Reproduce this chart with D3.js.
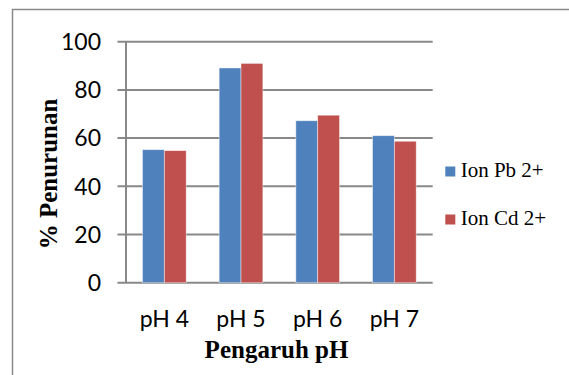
<!DOCTYPE html>
<html>
<head>
<meta charset="utf-8">
<script src="https://cdn.jsdelivr.net/npm/d3@7/dist/d3.min.js"></script>
<style>
  html, body { margin: 0; padding: 0; background: #fff; }
  svg { display: block; }
</style>
</head>
<body>
<svg id="chart" width="569" height="375"></svg>
<script>
// Data
const categories = ["pH 4", "pH 5", "pH 6", "pH 7"];
const seriesNames = ["Ion Pb 2+", "Ion Cd 2+"];
const pbValues = [55.2, 89.1, 67.2, 61.0];
const cdValues = [54.8, 91.0, 69.5, 58.7];
const yTicks = [0, 20, 40, 60, 80, 100];
const seriesColors = ["#4F81BD", "#C0504D"];

const svg = d3.select("#chart");

// Chart-area frame
svg.append("rect")
  .attr("x", 12.5).attr("y", 9.5)
  .attr("width", 620).attr("height", 420)
  .attr("fill", "none")
  .attr("stroke", "#8a8a8a")
  .attr("stroke-width", 1.5);

const plot = { left: 126, right: 432.7, top: 41.7, bottom: 282.7 };

const y = d3.scaleLinear().domain([0, 100]).range([plot.bottom, plot.top]);
const x0 = d3.scaleBand().domain(categories)
  .range([plot.left, plot.right])
  .paddingInner(0.43).paddingOuter(0.215);
const x1 = d3.scaleBand().domain(seriesNames).range([0, x0.bandwidth()]);

// Gridlines
svg.append("g")
  .selectAll("line")
  .data(yTicks)
  .join("line")
  .attr("x1", plot.left - 8.5).attr("x2", plot.right)
  .attr("y1", d => y(d)).attr("y2", d => y(d))
  .attr("stroke", "#888")
  .attr("stroke-width", 2);

// Y axis line
svg.append("line")
  .attr("x1", plot.left).attr("x2", plot.left)
  .attr("y1", plot.top).attr("y2", plot.bottom)
  .attr("stroke", "#888").attr("stroke-width", 2);

// Bars
const rows = categories.map((c, i) => ({ cat: c, vals: [pbValues[i], cdValues[i]] }));
const groups = svg.append("g")
  .selectAll("g")
  .data(rows)
  .join("g")
  .attr("transform", d => `translate(${x0(d.cat)},0)`);

groups.selectAll("rect")
  .data(d => d.vals.map((v, j) => ({ name: seriesNames[j], v, j })))
  .join("rect")
  .attr("x", d => x1(d.name))
  .attr("y", d => y(d.v))
  .attr("width", x1.bandwidth())
  .attr("height", d => y(0) - y(d.v))
  .attr("fill", d => seriesColors[d.j])
  .attr("stroke", "rgba(255,255,255,0.55)")
  .attr("stroke-width", 0.8);

// Y tick labels
svg.append("g")
  .selectAll("text")
  .data(yTicks)
  .join("text")
  .attr("x", 101)
  .attr("y", d => y(d))
  .attr("dy", "0.36em")
  .attr("text-anchor", "end")
  .attr("font-family", "Lato, 'Open Sans', sans-serif")
  .attr("font-size", 23)
  .attr("fill", "#000")
  .text(d => d);

// Category labels
svg.append("g")
  .selectAll("text")
  .data(categories)
  .join("text")
  .attr("x", d => x0(d) + x0.bandwidth() / 2)
  .attr("y", 326.7)
  .attr("text-anchor", "middle")
  .attr("font-family", "Lato, 'Open Sans', sans-serif")
  .attr("font-size", 23)
  .attr("fill", "#000")
  .text(d => d);

// Axis titles
svg.append("text")
  .attr("x", 276.5).attr("y", 358.3)
  .attr("text-anchor", "middle")
  .attr("font-family", "'Liberation Serif', 'Times New Roman', serif")
  .attr("font-weight", "bold")
  .attr("font-size", 25)
  .text("Pengaruh pH");

svg.append("text")
  .attr("transform", "translate(57,174) rotate(-90)")
  .attr("text-anchor", "middle")
  .attr("font-family", "'Liberation Serif', 'Times New Roman', serif")
  .attr("font-weight", "bold")
  .attr("font-size", 25)
  .text("% Penurunan");

// Legend
const legend = svg.append("g")
  .selectAll("g")
  .data(seriesNames)
  .join("g")
  .attr("transform", (d, i) => `translate(445.3,${166.5 + i * 48})`);

legend.append("rect")
  .attr("width", 10).attr("height", 10)
  .attr("fill", (d, i) => seriesColors[i]);

legend.append("text")
  .attr("x", 15.4).attr("y", 10.8)
  .attr("font-family", "'Liberation Serif', 'Times New Roman', serif")
  .attr("font-size", 21)
  .attr("fill", "#000")
  .text(d => d);
</script>
</body>
</html>
